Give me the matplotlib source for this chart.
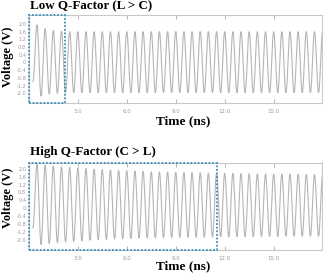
#!/usr/bin/env python3

import numpy as np
from matplotlib import pyplot as plt
from matplotlib.patches import Rectangle

# waveform data (one value per oscillation cycle)
period = 0.5          # ns
first_peak = 0.49     # ns
low_q_peaks = [1.96, 1.76, 1.67, 1.62] + [1.60] * 32
low_q_troughs = [-1.75, -1.64, -1.60, -1.58] + [-1.57] * 32
high_q_peaks = [2.22, 2.18, 2.14, 2.10, 2.07, 2.04, 2.01, 1.98, 1.96, 1.94,
                1.92, 1.90, 1.88, 1.87, 1.85, 1.84, 1.83, 1.82, 1.81, 1.80,
                1.79, 1.78, 1.77, 1.77, 1.76, 1.75, 1.75, 1.74, 1.74, 1.73,
                1.73, 1.72, 1.72, 1.71, 1.71, 1.71]
high_q_troughs = [-1.85, -1.80, -1.76, -1.72, -1.69, -1.66, -1.63, -1.61, -1.59, -1.57,
                  -1.55, -1.54, -1.53, -1.52, -1.51, -1.50, -1.49, -1.49, -1.48, -1.48,
                  -1.47, -1.47, -1.46, -1.46, -1.45, -1.45, -1.45, -1.44, -1.44, -1.44,
                  -1.43, -1.43, -1.43, -1.43, -1.43, -1.43]

y_ticks = [2.0, 1.6, 1.2, 0.8, 0.4, 0.0, -0.4, -0.8, -1.2, -1.6]
y_labels = ['2.0', '1.6', '1.2', '0.8', '0.4', '0', '-0.4', '-0.8', '-1.2', '-2.0']
x_ticks = [3.0, 6.0, 9.0, 12.0, 15.0]
x_labels = ['3.0', '6.0', '9.0', '12.0', '15.0']

serif = 'Liberation Serif'
W, H = 323, 273


def waveform(peaks, troughs, start_val=-1.0, start_t=0.24):
    # extrema alternate peak / trough, joined by half-cosine segments
    times, vals = [start_t], [start_val]
    for k, (p, tr) in enumerate(zip(peaks, troughs)):
        times += [first_peak + k * period, first_peak + (k + 0.5) * period]
        vals += [p, tr]
    t_out, y_out = [], []
    for i in range(len(times) - 1):
        s = np.linspace(0, 1, 12, endpoint=False)
        t_out.append(times[i] + s * (times[i + 1] - times[i]))
        y_out.append(vals[i] + (vals[i + 1] - vals[i]) * (1 - np.cos(np.pi * s)) / 2)
    return np.concatenate(t_out), np.concatenate(y_out)


def panel(rect, peaks, troughs, ylim, box_end, title, title_y, vlabel_y, time_y):
    ax = fig.add_axes(rect)
    t, v = waveform(peaks, troughs)
    ax.plot(t, v, color='#b5b5b5', lw=0.8)
    ax.set_xlim(0, 17.95)
    ax.set_ylim(*ylim)
    ax.set_yticks(y_ticks)
    ax.set_yticklabels(y_labels)
    ax.set_xticks(x_ticks)
    ax.set_xticklabels(x_labels)
    ax.tick_params(axis='y', length=0, pad=2, labelsize=3.6, labelcolor='#9a9a9a')
    ax.tick_params(axis='x', direction='in', length=3, width=0.6, color='#aaaaaa',
                   top=True, pad=4, labelsize=4, labelcolor='#9a9a9a')
    for s in ax.spines.values():
        s.set_color('#c8c8c8')
        s.set_linewidth(0.8)
    ax.add_patch(Rectangle((0, ylim[0]), box_end, ylim[1] - ylim[0], fill=False,
                           edgecolor='#3a8fbf', lw=1.3, ls=(0, (1, 1)), clip_on=False, zorder=5))
    fig.text(30 / W, 1 - title_y / H, title, fontfamily=serif, fontweight='bold',
             fontsize=9.4, va='center', ha='left')
    fig.text(8 / W, 1 - vlabel_y / H, 'Voltage (V)', fontfamily=serif, fontweight='bold',
             fontsize=9, rotation=90, va='center', ha='center')
    fig.text(183 / W, 1 - time_y / H, 'Time (ns)', fontfamily=serif, fontweight='bold',
             fontsize=9.5, va='center', ha='center')


fig = plt.figure(figsize=(W / 100, H / 100), dpi=100)

panel([29 / W, 1 - 103 / H, 293 / W, 88 / H], low_q_peaks, low_q_troughs,
      (-2.11, 2.47), 2.22, 'Low Q-Factor (L > C)', 6.5, 57, 121)
panel([29 / W, 1 - 250 / H, 293 / W, 87.5 / H], high_q_peaks, high_q_troughs,
      (-2.13, 2.32), 11.53, 'High Q-Factor (C > L)', 152, 198, 266)

fig.savefig('out.png', dpi=100)
